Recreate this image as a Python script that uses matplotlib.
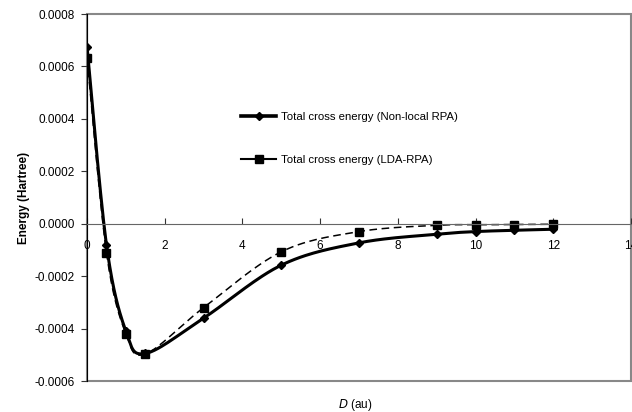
import numpy as np
import matplotlib.pyplot as plt
from matplotlib.patches import Rectangle
from matplotlib.lines import Line2D

# data
d = [0, 0.5, 1, 1.5, 3, 5, 7, 9, 10, 11, 12]
e_nonlocal = [0.000676, -0.00008, -0.00041, -0.000495, -0.00036, -0.000158, -0.000073,
              -0.000040, -0.000030, -0.000025, -0.000021]
e_lda = [0.000634, -0.00011, -0.00042, -0.000497, -0.00032, -0.000107, -0.000030,
         -0.000006, -0.000004, -0.000003, -0.000002]
labels = ['Total cross energy (Non-local RPA)', 'Total cross energy (LDA-RPA)']


def smooth(x, y, n=30):
    # Catmull-Rom drawing path through the points, like a spreadsheet "smoothed line"
    x = np.asarray(x, float)
    y = np.asarray(y, float)
    px = np.concatenate([[x[0]], x, [x[-1]]])
    py = np.concatenate([[y[0]], y, [y[-1]]])
    xs, ys = [], []
    t = np.linspace(0, 1, n)
    h00 = 2 * t**3 - 3 * t**2 + 1
    h10 = t**3 - 2 * t**2 + t
    h01 = -2 * t**3 + 3 * t**2
    h11 = t**3 - t**2
    for i in range(1, len(px) - 2):
        for p, out in ((px, xs), (py, ys)):
            p0, p1, p2, p3 = p[i - 1], p[i], p[i + 1], p[i + 2]
            m1 = (p2 - p0) / 2
            m2 = (p3 - p1) / 2
            out.extend(h00 * p1 + h10 * m1 + h01 * p2 + h11 * m2)
    return np.array(xs), np.array(ys)


plt.rcParams['font.family'] = ['Liberation Sans', 'DejaVu Sans']
fs = 8.5

fig = plt.figure(figsize=(6.32, 4.12), dpi=100)
ax = fig.add_axes([0.1377, 0.0752, 0.8608, 0.8908])

sx, sy = smooth(d, e_nonlocal)
ax.plot(sx, sy, color='black', lw=2.2, solid_capstyle='round')
ax.plot(d, e_nonlocal, linestyle='none', marker='D', ms=4, color='black')
sx, sy = smooth(d, e_lda)
ax.plot(sx, sy, color='black', lw=1.1, dashes=(5, 3))
ax.plot(d, e_lda, linestyle='none', marker='s', ms=5.5, color='black')

ax.set_xlim(0, 14)
ax.set_ylim(-0.0006, 0.0008)
ax.set_xticks(range(0, 15, 2))
yt = np.arange(-0.0006, 0.00081, 0.0002)
ax.set_yticks(yt)
ax.set_yticklabels([f'{v:.4f}'.replace('-0.0000', '0.0000') for v in yt])

for s in ['top', 'right']:
    ax.spines[s].set_visible(False)
ax.spines['bottom'].set_position(('data', 0))
ax.spines['bottom'].set_color('#666666')
ax.spines['left'].set_color('black')
ax.add_patch(Rectangle((0, 0), 1, 1, transform=ax.transAxes, fill=False,
                       edgecolor='#888888', lw=1.5, clip_on=False, zorder=0))
ax.tick_params(axis='x', direction='in', length=4, labelsize=fs, pad=12, color='#333333')
ax.tick_params(axis='y', direction='out', length=4, labelsize=fs, pad=5, color='#333333')

ax.set_ylabel('Energy (Hartree)', fontsize=fs, fontweight='bold', labelpad=3)
fig.text(0.562, 0.01, r'$\it{D}$ (au)', fontsize=fs, ha='center')

# legend entries drawn as in the original
h = [Line2D([0], [0], color='black', lw=2.6, marker='D', ms=4),
     Line2D([0], [0], color='black', lw=1.5, marker='s', ms=5.5)]
ax.legend(h, labels, loc='upper left', bbox_to_anchor=(0.265, 0.76), frameon=False,
          fontsize=8.2, labelspacing=2.9, handlelength=3.0, handletextpad=0.5)

fig.savefig('out.png', dpi=100)
